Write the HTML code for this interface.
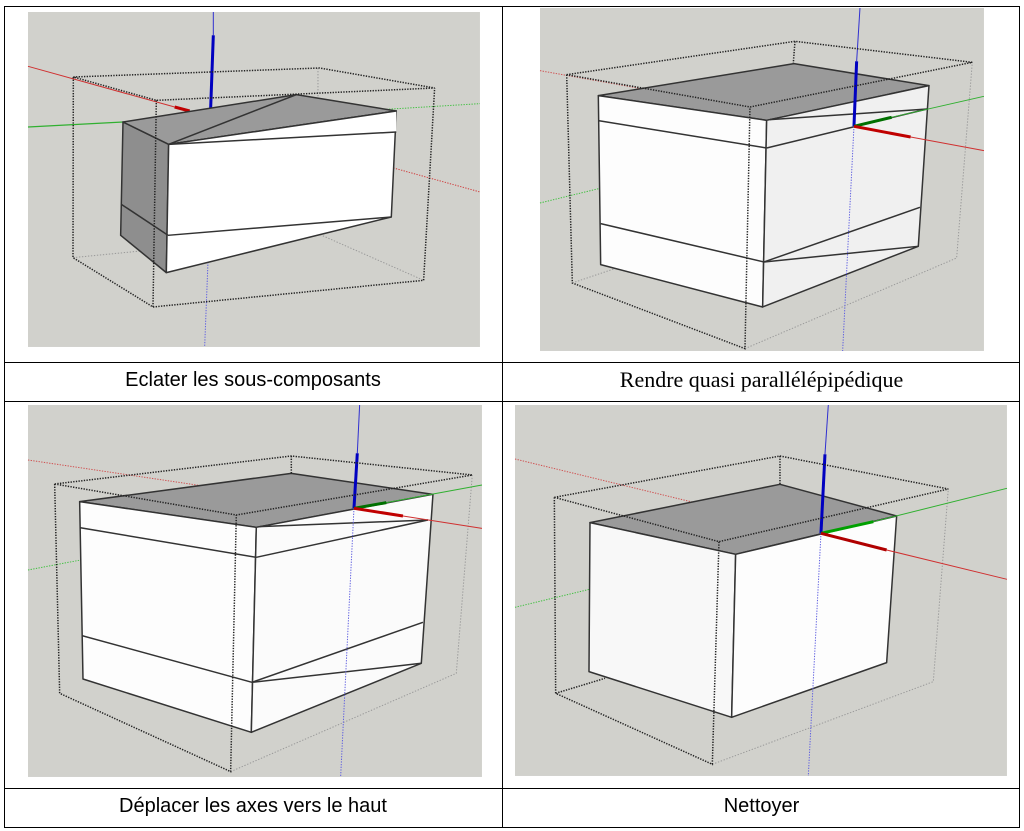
<!DOCTYPE html>
<html><head><meta charset="utf-8"><style>
body{margin:0;background:#fff;width:1024px;height:831px;overflow:hidden}
svg{position:absolute;left:0;top:0}
.cap{position:absolute;font-size:20px;color:#000;text-align:center;line-height:24px}
.s{font-family:"Liberation Sans",sans-serif}
.r{font-family:"Liberation Serif",serif;font-size:22px}
</style></head><body>
<svg width="1024" height="831" viewBox="0 0 1024 831">
<defs><style>
.e{stroke:#333;stroke-width:4.5;stroke-linejoin:round}
.d{stroke:#222;stroke-width:4.5;stroke-dasharray:4 4;fill:none}
.f{stroke:#999;stroke-width:3;stroke-dasharray:4 5;fill:none}
</style></defs>
<g stroke="#000" stroke-width="1" fill="none">
<rect x="4.5" y="6.5" width="1015" height="821"/>
<line x1="502.5" y1="6" x2="502.5" y2="828"/>
<line x1="4" y1="362.5" x2="1020" y2="362.5"/>
<line x1="4" y1="401.5" x2="1020" y2="401.5"/>
<line x1="4" y1="788.5" x2="1020" y2="788.5"/>
</g>

<!-- Panel 1 -->
<g transform="translate(28,12) scale(0.3333)">
<rect width="1356" height="1005" fill="#d1d1cc"/>
<polyline class="f" points="870,168 870,665 1187,805"/>
<line class="f" x1="135" y1="737" x2="870" y2="665"/>
<line x1="780" y1="380" x2="1356" y2="540" stroke="#d04040" stroke-width="3" stroke-dasharray="4 4"/>
<line x1="1075" y1="292" x2="1356" y2="275" stroke="#40c040" stroke-width="3" stroke-dasharray="4 4"/>
<line x1="540" y1="750" x2="530" y2="1005" stroke="#6060e0" stroke-width="3" stroke-dasharray="4 4"/>
<line x1="0" y1="163" x2="440" y2="285" stroke="#d03030" stroke-width="3"/>
<line x1="440" y1="285" x2="485" y2="297" stroke="#c00000" stroke-width="9"/>
<line x1="0" y1="345" x2="285" y2="330" stroke="#30b030" stroke-width="3.5"/>
<line x1="556" y1="0" x2="556" y2="70" stroke="#3030d0" stroke-width="3"/>
<line x1="556" y1="70" x2="548" y2="290" stroke="#0000c0" stroke-width="9"/>
<polygon points="285,330 422,397 415,782 278,670" fill="#8e8e8e" class="e"/>
<polygon points="285,330 805,248 1105,297 422,397" fill="#9a9a9a" class="e"/>
<polygon points="422,397 1105,297 1090,615 415,782" fill="#ffffff" class="e"/>
<polygon points="422,397 1105,297 1105,360" fill="#fff" stroke="none"/>
<line class="e" x1="280" y1="577" x2="420" y2="670"/>
<line class="e" x1="422" y1="397" x2="805" y2="248"/>
<line class="e" x1="422" y1="397" x2="1105" y2="360"/>
<line class="e" x1="420" y1="670" x2="1090" y2="615"/>
<line class="e" x1="422" y1="397" x2="1105" y2="297"/>
<polyline class="d" points="136,195 875,168 1220,228 385,265 136,195"/>
<polyline class="d" points="136,195 135,737 375,885 1187,805 1220,228"/>
<line class="d" x1="385" y1="265" x2="375" y2="885"/>
</g>

<!-- Panel 2 -->
<g transform="translate(540,8) scale(0.3333)">
<rect width="1332" height="1029" fill="#d1d1cc"/>
<polyline class="f" points="97,825 230,780"/>
<polyline class="f" points="615,1022 1250,750 1297,163"/>
<line x1="0" y1="188" x2="942" y2="355" stroke="#d05050" stroke-width="3" stroke-dasharray="4 4"/>
<line x1="0" y1="585" x2="942" y2="355" stroke="#40c040" stroke-width="3" stroke-dasharray="4 4"/>
<polygon points="175,263 762,167 1167,233 680,337" fill="#9a9a9a" class="e"/>
<polygon points="175,263 680,337 668,897 182,770" fill="#fdfdfd" class="e"/>
<polygon points="680,337 1167,233 1135,715 668,897" fill="#f0f0f0" class="e"/>
<line class="e" x1="175" y1="338" x2="680" y2="420"/>
<line class="e" x1="182" y1="647" x2="672" y2="762"/>
<line class="e" x1="690" y1="335" x2="1162" y2="303"/>
<line class="e" x1="680" y1="420" x2="1162" y2="303"/>
<line class="e" x1="672" y1="762" x2="1140" y2="598"/>
<line class="e" x1="672" y1="762" x2="1135" y2="715"/>
<line x1="942" y1="355" x2="908" y2="1029" stroke="#6060e0" stroke-width="3" stroke-dasharray="4 4"/>
<line x1="960" y1="0" x2="950" y2="160" stroke="#3030d0" stroke-width="3"/>
<line x1="950" y1="160" x2="942" y2="355" stroke="#0000c0" stroke-width="9"/>
<line x1="1055" y1="328" x2="1332" y2="265" stroke="#30b030" stroke-width="3"/>
<line x1="942" y1="355" x2="1055" y2="328" stroke="#007000" stroke-width="9"/>
<line x1="1112" y1="387" x2="1332" y2="428" stroke="#d03030" stroke-width="3"/>
<line x1="942" y1="355" x2="1112" y2="387" stroke="#c00000" stroke-width="9"/>
<polyline class="d" points="80,200 765,100 1297,163 630,297 80,200"/>
<polyline class="d" points="80,200 97,825 615,1022 630,297"/>
<line class="d" x1="765" y1="100" x2="760" y2="165"/>
</g>

<!-- Panel 3 -->
<g transform="translate(28,405) scale(0.3333)">
<rect width="1362" height="1116" fill="#d1d1cc"/>
<polyline class="f" points="608,1100 1285,805 1333,210"/>
<line x1="0" y1="165" x2="978" y2="310" stroke="#d05050" stroke-width="3" stroke-dasharray="4 4"/>
<line x1="0" y1="495" x2="978" y2="310" stroke="#40c040" stroke-width="3" stroke-dasharray="4 4"/>
<polygon points="155,290 790,205 1215,268 685,367" fill="#9a9a9a" class="e"/>
<polygon points="155,290 685,367 670,982 165,822" fill="#fdfdfd" class="e"/>
<polygon points="685,367 1215,268 1180,775 670,982" fill="#fbfbfb" class="e"/>
<line class="e" x1="155" y1="368" x2="685" y2="457"/>
<line class="e" x1="162" y1="692" x2="672" y2="832"/>
<line class="e" x1="695" y1="365" x2="1200" y2="345"/>
<line class="e" x1="685" y1="457" x2="1200" y2="345"/>
<line class="e" x1="672" y1="832" x2="1185" y2="652"/>
<line class="e" x1="672" y1="832" x2="1180" y2="775"/>
<line x1="978" y1="310" x2="938" y2="1116" stroke="#6060e0" stroke-width="3" stroke-dasharray="4 4"/>
<line x1="995" y1="0" x2="988" y2="145" stroke="#3030d0" stroke-width="3"/>
<line x1="988" y1="145" x2="978" y2="310" stroke="#0000c0" stroke-width="9"/>
<line x1="1075" y1="293" x2="1362" y2="240" stroke="#30b030" stroke-width="3"/>
<line x1="978" y1="310" x2="1075" y2="293" stroke="#007000" stroke-width="9"/>
<line x1="1125" y1="333" x2="1362" y2="370" stroke="#d03030" stroke-width="3"/>
<line x1="978" y1="310" x2="1125" y2="333" stroke="#c00000" stroke-width="9"/>
<polyline class="d" points="80,237 790,153 1333,210 625,330 80,237"/>
<polyline class="d" points="80,237 95,865 608,1100 625,330"/>
<line class="d" x1="790" y1="153" x2="790" y2="205"/>
</g>

<!-- Panel 4 -->
<g transform="translate(515,405) scale(0.3333)">
<rect width="1476" height="1113" fill="#d1d1cc"/>
<polyline class="f" points="592,1078 1255,830 1300,252"/>
<line x1="0" y1="162" x2="918" y2="385" stroke="#d05050" stroke-width="3" stroke-dasharray="4 4"/>
<line x1="0" y1="607" x2="918" y2="385" stroke="#40c040" stroke-width="3" stroke-dasharray="4 4"/>
<polygon points="225,353 795,238 1145,333 662,448" fill="#9a9a9a" class="e"/>
<polygon points="225,353 662,448 650,937 222,800" fill="#f8f8f8" class="e"/>
<polygon points="662,448 1145,333 1115,773 650,937" fill="#fdfdfd" class="e"/>
<line x1="918" y1="385" x2="880" y2="1113" stroke="#6060e0" stroke-width="3" stroke-dasharray="4 4"/>
<line x1="940" y1="0" x2="930" y2="148" stroke="#3030d0" stroke-width="3"/>
<line x1="930" y1="148" x2="918" y2="385" stroke="#0000c0" stroke-width="9"/>
<line x1="1075" y1="350" x2="1476" y2="250" stroke="#30b030" stroke-width="3"/>
<line x1="918" y1="385" x2="1075" y2="350" stroke="#00a000" stroke-width="9"/>
<line x1="1115" y1="435" x2="1476" y2="523" stroke="#d03030" stroke-width="3"/>
<line x1="918" y1="385" x2="1115" y2="435" stroke="#b00000" stroke-width="9"/>
<polyline class="d" points="118,277 795,153 1300,252 612,410 118,277"/>
<polyline class="d" points="118,277 122,865 592,1078 612,410"/>
<line class="d" x1="122" y1="865" x2="270" y2="820"/>
<line class="d" x1="795" y1="153" x2="795" y2="240"/>
</g>
</svg>
<div class="cap s" style="left:4px;width:498px;top:368px">Eclater les sous-composants</div>
<div class="cap r" style="left:503px;width:517px;top:368px">Rendre quasi parallélépipédique</div>
<div class="cap s" style="left:4px;width:498px;top:794px">Déplacer les axes vers le haut</div>
<div class="cap s" style="left:503px;width:517px;top:794px">Nettoyer</div>
</body></html>
